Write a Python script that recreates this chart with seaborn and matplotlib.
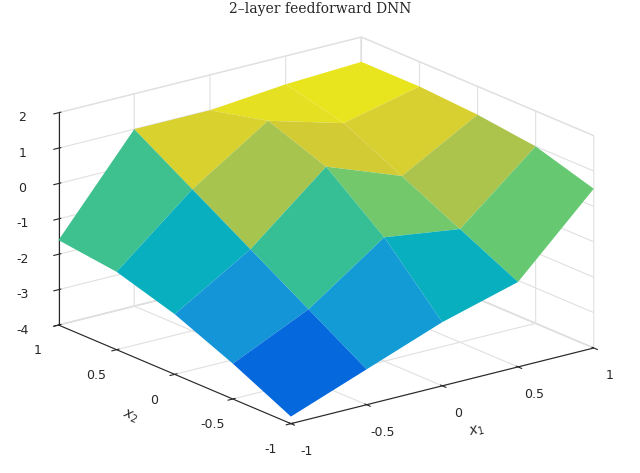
import numpy as np
import matplotlib
matplotlib.use("Agg")
import matplotlib.pyplot as plt
import seaborn as sns
from matplotlib.colors import LinearSegmentedColormap

sns.set_style("white")
plt.rcParams["xtick.labelsize"] = 9
plt.rcParams["ytick.labelsize"] = 9

x1_vals = [-1.0, -0.5, 0.0, 0.5, 1.0]
x2_vals = [-1.0, -0.5, 0.0, 0.5, 1.0]
# rows: x2 from -1 to 1 ; cols: x1 from -1 to 1
z_row_m10 = [-3.8, -3.0, -2.2, -1.6, 0.5]
z_row_m05 = [-3.0, -2.0, -0.5, -0.8, 1.0]
z_row_00 = [-2.3, -1.0, 0.8, 0.0, 1.2]
z_row_p05 = [-1.8, 0.0, 1.4, 0.8, 1.3]
z_row_p10 = [-1.6, 1.0, 1.0, 1.2, 1.3]

parula = LinearSegmentedColormap.from_list("parula", [
    (0.2081, 0.1663, 0.5292), (0.0123, 0.4213, 0.8802), (0.0779, 0.5941, 0.8429),
    (0.0239, 0.7009, 0.7297), (0.3783, 0.7884, 0.4565), (0.8000, 0.7600, 0.2300),
    (0.9763, 0.9831, 0.0538)])

X1, X2 = np.meshgrid(x1_vals, x2_vals)
Z = np.array([z_row_m10, z_row_m05, z_row_00, z_row_p05, z_row_p10])

fig = plt.figure(figsize=(6.4, 4.73), dpi=100)
ax = fig.add_subplot(111, projection="3d", proj_type="ortho")
surf = ax.plot_surface(X1, X2, Z, cmap=parula, edgecolor="none", shade=True,
                       antialiased=True, vmin=-3.8, vmax=1.5, rstride=1, cstride=1)
surf.set_clip_on(False)
ax.set_xlim(-1, 1); ax.set_ylim(-1, 1); ax.set_zlim(-4, 2)
ax.set_xticks([-1, -0.5, 0, 0.5, 1]); ax.set_yticks([-1, -0.5, 0, 0.5, 1])
ax.set_zticks([-4, -3, -2, -1, 0, 1, 2])
ax.set_xticklabels(["-1", "-0.5", "0", "0.5", "1"])
ax.set_yticklabels(["-1", "-0.5", "0", "0.5", "1"])
ax.set_zticklabels(["-4", "-3", "-2", "-1", "0", "1", "2"])
ax.tick_params(axis="z", labelsize=9)
ax.set_xlabel("$x_1$"); ax.set_ylabel("$x_2$"); ax.set_zlabel("$y$")
ax.view_init(elev=19, azim=-127.5)
ax.set_box_aspect((1.7, 1.7, 1.0), zoom=1.25)
for a in (ax.xaxis, ax.yaxis, ax.zaxis):
    a.pane.fill = False
    a.pane.set_edgecolor("0.8")
    a._axinfo["grid"]["color"] = (0.88, 0.88, 0.88, 1)
fig.suptitle("2–layer feedforward DNN", family="serif", fontsize=10, y=0.995)
ax.set_position([0.01, 0.02, 0.98, 0.96])
fig.savefig("out.png", dpi=100)
